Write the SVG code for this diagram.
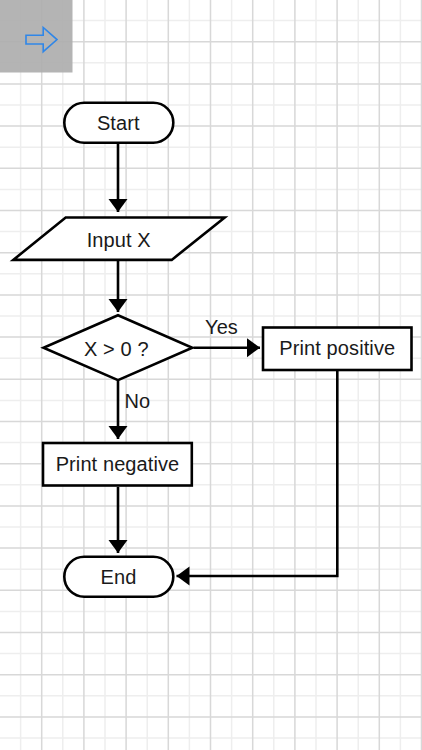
<svg xmlns="http://www.w3.org/2000/svg" width="422" height="750" viewBox="0 0 422 750">
<style>
.gl{stroke:#eeeeee;stroke-width:1.5;fill:none}
.gd{stroke:#d8d8d8;stroke-width:1.5;fill:none}
.shape{fill:#ffffff;stroke:#000000;stroke-width:2.6}
.edge{fill:none;stroke:#000000;stroke-width:2.6}
.lbl{font-family:"Liberation Sans",Arial,Helvetica,sans-serif;font-size:20px;letter-spacing:0.1px;fill:#1a1a1a;text-anchor:middle}
</style>
<defs>
<marker id="ah" markerUnits="userSpaceOnUse" markerWidth="14" markerHeight="20" refX="13" refY="10" orient="auto">
<path d="M0,0.5 L13,10 L0,19.5 Z" fill="#000"/>
</marker>
</defs>
<rect width="422" height="750" fill="#ffffff"/>
<g id="grid">
<path class="gl" d="M20.6,0V750M62.8,0V750M105,0V750M147.2,0V750M189.4,0V750M231.6,0V750M273.8,0V750M316,0V750M358.2,0V750M400.4,0V750M0,20.6H422M0,62.8H422M0,105H422M0,147.2H422M0,189.4H422M0,231.6H422M0,273.8H422M0,316H422M0,358.2H422M0,400.4H422M0,442.6H422M0,484.8H422M0,527H422M0,569.2H422M0,611.4H422M0,653.6H422M0,695.8H422M0,738H422"/>
<path class="gd" d="M41.7,0V750M83.9,0V750M126.1,0V750M168.3,0V750M210.5,0V750M252.7,0V750M294.9,0V750M337.1,0V750M379.3,0V750M421.5,0V750M0,41.7H422M0,83.9H422M0,126.1H422M0,168.3H422M0,210.5H422M0,252.7H422M0,294.9H422M0,337.1H422M0,379.3H422M0,421.5H422M0,463.7H422M0,505.9H422M0,548.1H422M0,590.3H422M0,632.5H422M0,674.7H422M0,716.9H422"/>
</g>
<g id="toolbar">
<rect x="0" y="0" width="72.5" height="72.5" fill="#aeaeae" opacity="0.92"/>
<path d="M26,35.2 H43.2 V27.5 L57,39.6 L43.2,51.7 V44 H26 Z" fill="none" stroke="#2f86e8" stroke-width="1.6" stroke-linejoin="miter"/>
</g>
<g id="connectors">
<path class="edge" d="M118,144 V212" marker-end="url(#ah)"/>
<path class="edge" d="M118,261 V312" marker-end="url(#ah)"/>
<path class="edge" d="M193.5,347.7 H260" marker-end="url(#ah)"/>
<path class="edge" d="M118,381 V439" marker-end="url(#ah)"/>
<path class="edge" d="M118,487 V553" marker-end="url(#ah)"/>
<path class="edge" d="M337.3,371 V576 H176.5" marker-end="url(#ah)"/>
<text class="lbl" x="221.5" y="334.3">Yes</text>
<text class="lbl" x="124.5" y="408.3" style="text-anchor:start">No</text>
</g>
<g id="start">
<rect class="shape" x="64.3" y="102.7" width="109" height="40" rx="20" ry="20"/>
<text class="lbl" x="118.3" y="130">Start</text>
</g>
<g id="input">
<path class="shape" d="M65.7,217.5 H224.7 L171.7,259.9 H13.3 Z"/>
<text class="lbl" x="118.7" y="246.5">Input X</text>
</g>
<g id="decision">
<path class="shape" d="M118,315.2 L192.3,347.7 L118,380.2 L43.5,347.7 Z"/>
<text class="lbl" x="116.3" y="356">X &gt; 0 ?</text>
</g>
<g id="print-positive">
<rect class="shape" x="263" y="327.5" width="148.5" height="42.5"/>
<text class="lbl" x="337.3" y="355">Print positive</text>
</g>
<g id="print-negative">
<rect class="shape" x="43" y="443" width="148.8" height="42.5"/>
<text class="lbl" x="117.5" y="471">Print negative</text>
</g>
<g id="end">
<rect class="shape" x="64.3" y="556.8" width="109" height="40" rx="20" ry="20"/>
<text class="lbl" x="118.5" y="584.3">End</text>
</g>
</svg>
